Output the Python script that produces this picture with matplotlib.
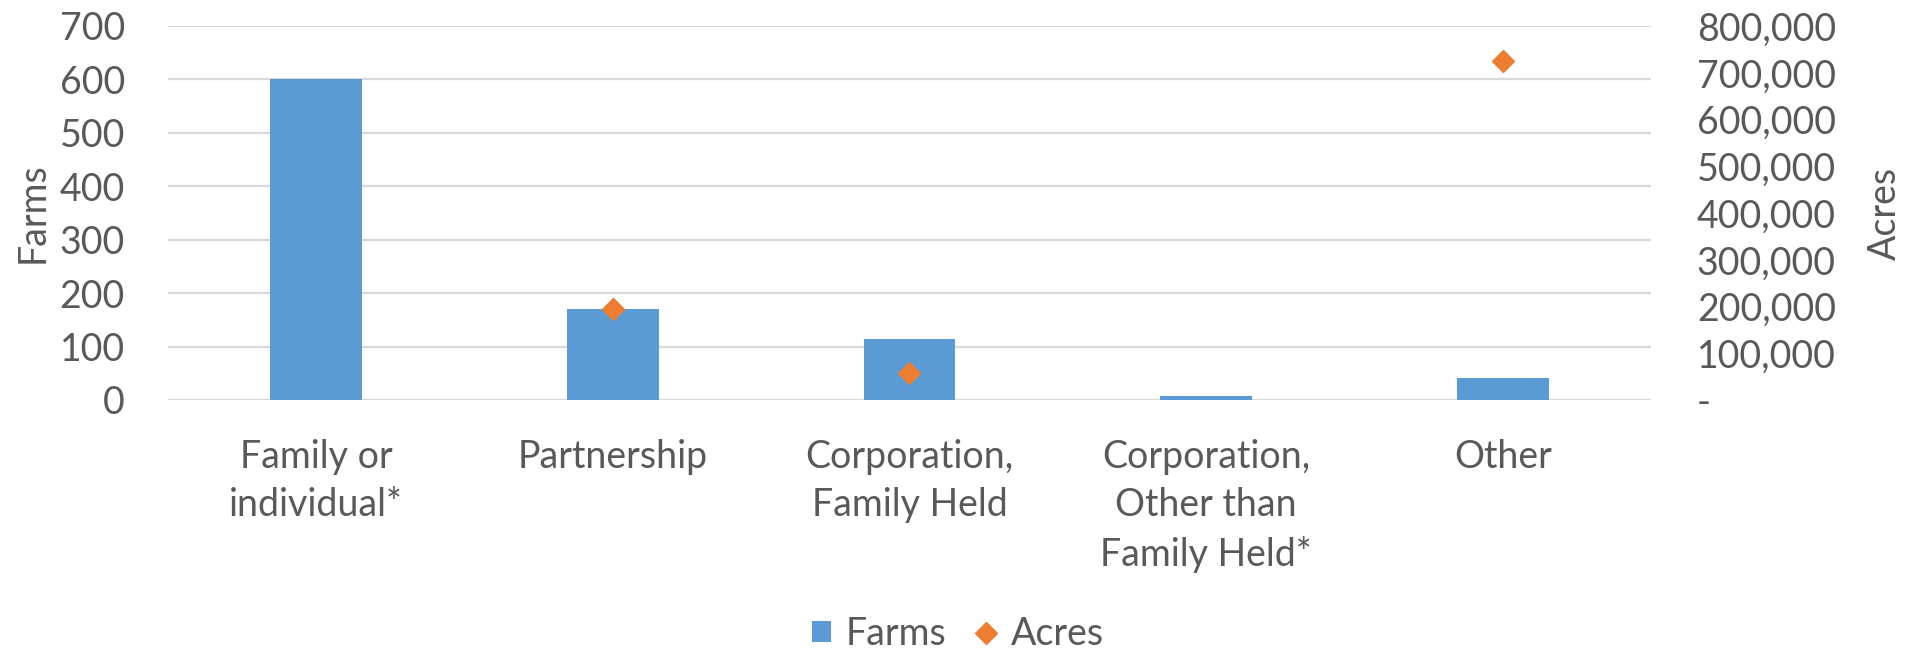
import matplotlib
matplotlib.use("Agg")
import matplotlib.pyplot as plt
import numpy as np
from matplotlib.ticker import FuncFormatter, MultipleLocator

categories = ["Family or\nindividual*", "Partnership", "Corporation,\nFamily Held",
              "Corporation,\nOther than\nFamily Held*", "Other"]
farms = [600, 170, 114, 7, 42]
acres = [np.nan, 194000, 57000, np.nan, 726000]

plt.rcParams['font.family'] = ['Lato', 'DejaVu Sans']
TXT = '#595959'
BAR = '#5B9BD5'
MRK = '#ED7D31'
GRID = '#D9D9D9'
FS = 27

L, R, T, B = 168, 1651, 26, 400
fig = plt.figure(figsize=(19.16, 6.51), dpi=100)
ax = fig.add_axes([L/1916, 1-B/651, (R-L)/1916, (B-T)/651])
ax2 = ax.twinx()

x = np.arange(len(categories))
ax.bar(x, farms, width=0.31, color=BAR, zorder=2, label='Farms')
ax2.plot(x, acres, linestyle='none', marker='D', markersize=11.5, color=MRK, zorder=3, label='Acres')

ax.set_xlim(-0.5, len(categories) - 0.5)
ax.set_ylim(0, 700)
ax.yaxis.set_major_locator(MultipleLocator(100))
ax2.set_ylim(0, 800000)
ax2.yaxis.set_major_locator(MultipleLocator(100000))
ax2.yaxis.set_major_formatter(FuncFormatter(lambda v, p: '-' if v == 0 else f'{int(v):,}'))

ax.grid(axis='y', color=GRID, linewidth=1.6, zorder=0)
ax.set_axisbelow(True)
for a in (ax, ax2):
    for s in a.spines.values():
        s.set_visible(False)
    a.tick_params(length=0, labelsize=FS, labelcolor=TXT)

ax.set_xticks(x)
ax.set_xticklabels(categories, fontsize=FS, color=TXT, linespacing=1.42, va='top')
ax.tick_params(axis='x', pad=28)
ax.tick_params(axis='y', pad=31)
ax2.tick_params(axis='y', pad=33)
for lbl in ax2.get_yticklabels():
    lbl.set_horizontalalignment('left')

ax.set_ylabel('Farms', fontsize=FS, color=TXT)
ax2.set_ylabel('Acres', fontsize=FS, color=TXT)
ax.yaxis.set_label_coords((33 - L)/(R - L), 0.5)
ax2.yaxis.set_label_coords((1885 - L)/(R - L), 0.5)
ax.yaxis.label.set_va('center')
ax2.yaxis.label.set_va('center')

h1, l1 = ax.get_legend_handles_labels()
h2, l2 = ax2.get_legend_handles_labels()
leg = fig.legend(h1 + h2, l1 + l2, loc='center', bbox_to_anchor=(0.5, 1 - 634/651), ncol=2,
                 frameon=False, fontsize=FS, handlelength=0.5, handleheight=0.5,
                 handletextpad=0.4, columnspacing=0.8, labelcolor=TXT)

fig.savefig('out.png', dpi=100)
